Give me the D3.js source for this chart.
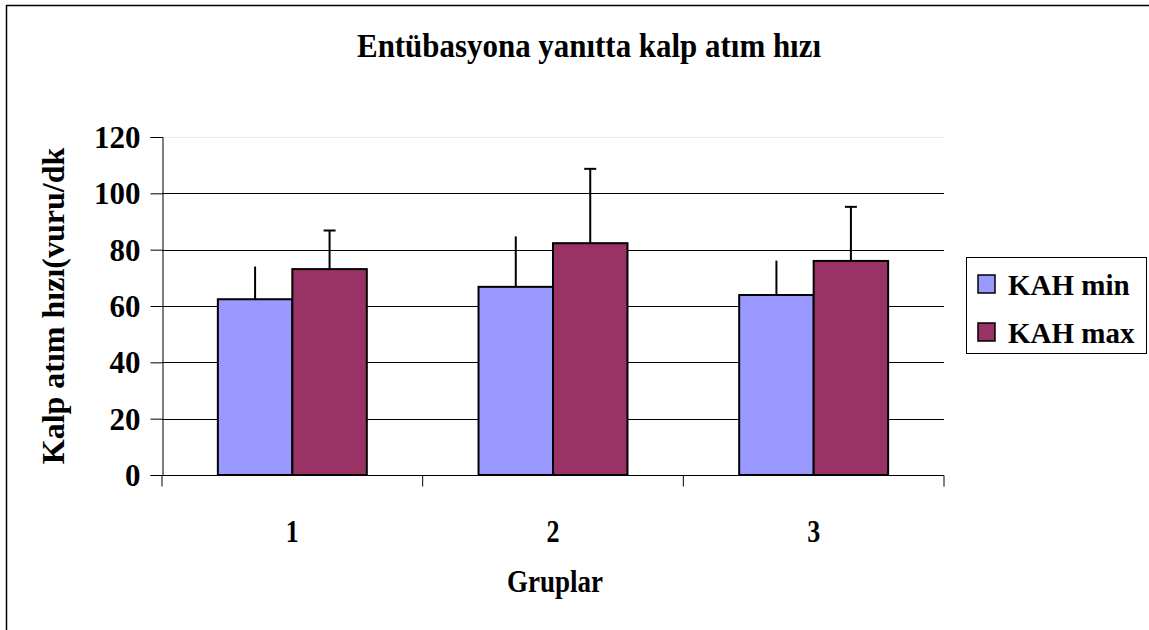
<!DOCTYPE html>
<html>
<head>
<meta charset="utf-8">
<script src="https://cdn.jsdelivr.net/npm/d3@7"></script>
<style>
  body { margin: 0; background: #fff; }
  text { font-family: "Liberation Serif", "Times New Roman", serif; font-weight: bold; fill: #000; }
</style>
</head>
<body>
<svg id="chart" width="1149" height="630"></svg>
<script>
// values
var groups = ["1", "2", "3"];
var seriesNames = ["KAH min", "KAH max"];
var kahMin = [62.4, 66.8, 63.9];
var kahMinErr = [11.6, 17.9, 12.2];
var kahMax = [73.1, 82.3, 76.0];
var kahMaxErr = [13.7, 26.4, 19.2];
var yTicks = [0, 20, 40, 60, 80, 100, 120];
var colors = ["#9999FF", "#993366"];

var plotLeft = 162, plotRight = 944, plotTop = 137, plotBottom = 475;

var svg = d3.select("#chart");

// chart border (top + left only visible)
svg.append("line").attr("x1", 6).attr("y1", 5.5).attr("x2", 1149).attr("y2", 5.5)
  .attr("stroke", "#000").attr("stroke-width", 1.5);
svg.append("line").attr("x1", 6.5).attr("y1", 5).attr("x2", 6.5).attr("y2", 630)
  .attr("stroke", "#000").attr("stroke-width", 1.5);

var x0 = d3.scaleBand().domain(groups).range([plotLeft, plotRight]);
var x1 = d3.scaleBand().domain(seriesNames).range([0, x0.bandwidth()]).paddingOuter(0.75);
var y = d3.scaleLinear().domain([0, 120]).range([plotBottom, plotTop]);

// gridlines
svg.append("g").selectAll("line").data(yTicks.filter(function(d) { return d > 0; })).enter()
  .append("line")
  .attr("x1", plotLeft).attr("x2", plotRight)
  .attr("y1", function(d) { return Math.round(y(d)) + 0.5; })
  .attr("y2", function(d) { return Math.round(y(d)) + 0.5; })
  .attr("stroke", function(d) { return d == 120 ? "#e8e8e8" : "#000"; })
  .attr("stroke-width", 1);

// bars
var rows = groups.map(function(g, i) {
  return [
    {g: g, s: seriesNames[0], v: kahMin[i], e: kahMinErr[i], c: colors[0], cap: false},
    {g: g, s: seriesNames[1], v: kahMax[i], e: kahMaxErr[i], c: colors[1], cap: true}
  ];
});
var flat = [].concat.apply([], rows);

function cx(d) { return x0(d.g) + x1(d.s) + x1.bandwidth() / 2; }

// error bars
svg.append("g").selectAll("line").data(flat).enter()
  .append("line")
  .attr("x1", cx).attr("x2", cx)
  .attr("y1", function(d) { return y(d.v); })
  .attr("y2", function(d) { return y(d.v + d.e); })
  .attr("stroke", "#000").attr("stroke-width", 2);

svg.append("g").selectAll("line").data(flat.filter(function(d) { return d.cap; })).enter()
  .append("line")
  .attr("x1", function(d) { return cx(d) - 6; })
  .attr("x2", function(d) { return cx(d) + 6; })
  .attr("y1", function(d) { return y(d.v + d.e); })
  .attr("y2", function(d) { return y(d.v + d.e); })
  .attr("stroke", "#000").attr("stroke-width", 2);

svg.append("g").selectAll("rect").data(flat).enter()
  .append("rect")
  .attr("x", function(d) { return x0(d.g) + x1(d.s); })
  .attr("y", function(d) { return y(d.v); })
  .attr("width", x1.bandwidth())
  .attr("height", function(d) { return y(0) - y(d.v); })
  .attr("fill", function(d) { return d.c; })
  .attr("stroke", "#000").attr("stroke-width", 2);

// y axis
var yAxis = d3.axisLeft(y).tickValues(yTicks).tickSize(12).tickPadding(10);
var gy = svg.append("g").attr("transform", "translate(" + (plotLeft + 0.5) + ",0)").call(yAxis);
gy.select(".domain").attr("stroke", "#000");
gy.selectAll(".tick line").attr("stroke", "#000");
gy.selectAll("text").style("font-size", "31px").attr("fill", "#000")
  .attr("font-family", null).attr("dy", "0.34em");

// x axis
var gx = svg.append("g").attr("transform", "translate(0," + (plotBottom + 0.5) + ")");
gx.append("line").attr("x1", plotLeft).attr("x2", plotRight).attr("stroke", "#000");
gx.selectAll(".xt").data(groups.concat(["end"])).enter()
  .append("line")
  .attr("x1", function(d) { return d == "end" ? plotRight : x0(d); })
  .attr("x2", function(d) { return d == "end" ? plotRight : x0(d); })
  .attr("y1", 0).attr("y2", 11)
  .attr("stroke", "#000");
gx.selectAll(".xl").data(groups).enter()
  .append("text")
  .attr("x", function(d) { return x0(d) + x0.bandwidth() / 2; })
  .attr("y", 66)
  .attr("text-anchor", "middle")
  .style("font-size", "31px")
  .attr("textLength", 13).attr("lengthAdjust", "spacingAndGlyphs")
  .text(function(d) { return d; });

// titles
svg.append("text").attr("x", 589).attr("y", 57).attr("text-anchor", "middle")
  .style("font-size", "33px")
  .attr("textLength", 464).attr("lengthAdjust", "spacingAndGlyphs")
  .text("Entübasyona yanıtta kalp atım hızı");

svg.append("text").attr("x", 555).attr("y", 592).attr("text-anchor", "middle")
  .style("font-size", "31px")
  .attr("textLength", 96).attr("lengthAdjust", "spacingAndGlyphs")
  .text("Gruplar");

svg.append("text")
  .attr("transform", "translate(64,306) rotate(-90)")
  .attr("text-anchor", "middle")
  .style("font-size", "32px")
  .text("Kalp atım hızı(vuru/dk");

// legend
var lg = svg.append("g");
lg.append("rect").attr("x", 966.5).attr("y", 257.5).attr("width", 180).attr("height", 96)
  .attr("fill", "#fff").attr("stroke", "#000").attr("stroke-width", 1);
var items = lg.selectAll(".item").data(seriesNames).enter().append("g")
  .attr("transform", function(d, i) { return "translate(0," + (i * 48) + ")"; });
items.append("rect").attr("x", 978).attr("y", 275).attr("width", 17).attr("height", 18)
  .attr("fill", function(d, i) { return colors[i]; })
  .attr("stroke", "#000").attr("stroke-width", 1.5);
items.append("text").attr("x", 1008).attr("y", 295)
  .style("font-size", "29px")
  .text(function(d) { return d; });
</script>
</body>
</html>
